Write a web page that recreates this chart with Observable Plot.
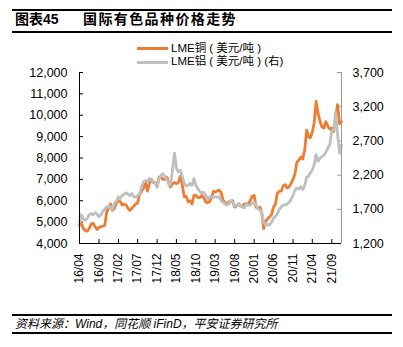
<!DOCTYPE html>
<html><head><meta charset="utf-8">
<script src="https://cdn.jsdelivr.net/npm/d3@7"></script>
<script src="https://cdn.jsdelivr.net/npm/@observablehq/plot@0.6"></script>
<style>
body{margin:0;background:#fff;width:403px;height:347px;position:relative;overflow:hidden;font-family:"Liberation Sans","Noto Sans CJK SC",sans-serif;color:#000;}
.hl{position:absolute;left:12px;width:380px;background:#000;}
.abs{position:absolute;white-space:nowrap;line-height:1;}
.sw{position:absolute;width:31px;height:3px;}
#chart{position:absolute;left:0;top:0;}
</style></head><body>
<div class="hl" style="top:9px;height:2px"></div>
<div class="abs" style="left:15px;top:12px;font-size:14px;font-weight:bold;">图表45</div>
<div class="abs" style="left:83px;top:12px;font-size:14px;font-weight:bold;letter-spacing:1.4px;">国际有色品种价格走势</div>
<div class="hl" style="top:31px;height:1.5px"></div>
<div class="sw" style="left:137px;top:47px;background:#ED7D31"></div>
<div class="abs" style="left:171px;top:43px;font-size:11.5px;">LME铜 ( 美元/吨 )</div>
<div class="sw" style="left:137px;top:61px;background:#BFBFBF"></div>
<div class="abs" style="left:171px;top:56px;font-size:11.5px;">LME铝 ( 美元/吨 ) (右)</div>
<div id="chart"></div>
<div class="hl" style="top:314px;height:1.5px"></div>
<div class="abs" style="left:15px;top:318px;font-size:12px;font-style:italic;">资料来源：Wind，同花顺 iFinD，平安证券研究所</div>
<div class="hl" style="top:332px;height:2px"></div>
<script>
// semi-monthly readings (1st and 16th of each month), 2016-04 .. 2021-11
const copper = [
  4850,4950, 4700,4600, 4580,4700, 4900,4950, 4800,4650, 4750,4800, 4800,4850, 5500,5650, 5850,5550,
  5650,5900, 6000,5950, 5800,5850, 5800,5650, 5550,5650, 5750,5850, 5900,6300, 6450,6600, 6850,6450, 6800,7000, 6850,6850, 6700,7100,
  7100,7000, 7000,7100, 6850,6650, 6800,6850, 6800,6850, 7150,6750, 6200,6200, 5950,6000, 5850,6250, 6250,6150, 6150,6250, 6150,5950,
  5900,5950, 6150,6450, 6400,6450, 6500,6400, 6050,5900, 5850,5950, 5950,6000, 5700,5750, 5850,5750, 5750,5850, 5850,5850, 6000,6200,
  6250,5700, 5650,5700, 5400,4700, 5050,5150, 5250,5350, 5700,5850, 6350,6450, 6450,6700, 6750,6600, 6650,6800, 7000,7250, 7800,7900,
  8050,7950, 8400,9300, 9000,8950, 9200,9650, 10650,10100, 9700,9450, 9400,9700, 9500,9350, 9400,9250, 9900,10500, 9600,9700
];
const aluminum = [
  1510,1620, 1560,1540, 1570,1620, 1640,1620, 1650,1630, 1590,1620, 1670,1700, 1740,1730, 1740,1700,
  1790,1820, 1880,1860, 1900,1920, 1940,1920, 1900,1930, 1880,1880, 1900,1920, 2030,2100, 2120,2110, 2150,2120, 2110,2080, 2020,2140,
  2200,2220, 2180,2130, 2070,2060, 2280,2520, 2300,2250, 2270,2180, 2080,2040, 2050,2080, 2050,2150, 2050,2000, 1960,1940, 1950,1910,
  1850,1880, 1880,1880, 1880,1880, 1880,1830, 1800,1780, 1760,1780, 1830,1800, 1750,1750, 1790,1750, 1730,1720, 1780,1760, 1760,1790,
  1800,1770, 1700,1690, 1650,1510, 1460,1480, 1470,1510, 1570,1600, 1630,1700, 1740,1760, 1760,1780, 1800,1850, 1900,1980, 2010,2000,
  2030,1990, 2050,2170, 2180,2230, 2280,2350, 2500,2400, 2450,2470, 2490,2530, 2600,2640, 2850,2870, 3120,2800, 2520,2640
];
const leftTicks = [4000,5000,6000,7000,8000,9000,10000,11000,12000];
const rightTicks = [1200,1700,2200,2700,3200,3700];
const xTickLabels = ["16/04","16/09","17/02","17/07","17/12","18/05","18/10","19/03","19/08","20/01","20/06","20/11","21/04","21/09"];

const dates = [];
for (let m = 0; m < copper.length / 2; m++) for (const d of [1, 16]) dates.push(new Date(Date.UTC(2016, 3 + m, d)));
const toLeft = v => 4000 + (v - 1200) * (8000 / 2500);
const data = dates.map((date, i) => ({date, cu: copper[i], al: toLeft(aluminum[i])}));
const xTicks = xTickLabels.map(s => new Date(Date.UTC(2000 + +s.slice(0, 2), +s.slice(3) - 1, 1)));
const fmt = d3.format(",");
const W = 403, H = 300, mL = 79, mR = 62, mT = 72, mB = 57;
const pw = W - mL - mR, ph = H - mT - mB;

const chart = Plot.plot({
  width: W, height: H, marginTop: mT, marginBottom: mB, marginLeft: mL, marginRight: mR,
  x: {type: "utc", domain: [dates[0], dates[dates.length - 1]]},
  y: {domain: [4000, 12000]},
  style: {fontFamily: '"Liberation Sans","Noto Sans CJK SC",sans-serif', color: "#000", background: "transparent", overflow: "visible"},
  marks: [
    Plot.axisY(leftTicks, {tickSize: 0, tickPadding: 12, tickFormat: fmt, fontSize: 12.5, label: null}),
    Plot.axisX(xTicks, {tickSize: 0, tickPadding: 10, tickRotate: -90, tickFormat: d3.utcFormat("%y/%m"), fontSize: 12, label: null}),
    Plot.tickY(leftTicks, {y: d => d, stroke: "#000", insetRight: pw - 4}),
    Plot.tickY(rightTicks, {y: toLeft, stroke: "#999", insetLeft: pw - 4}),
    Plot.tickX(xTicks, {x: d => d, stroke: "#000", insetTop: ph - 4}),
    Plot.text(rightTicks, {y: toLeft, text: d => fmt(d), frameAnchor: "right", textAnchor: "start", dx: 11, fontSize: 12.5, fill: "#000"}),
    Plot.line(data, {x: "date", y: "cu", stroke: "#ED7D31", strokeWidth: 2.8}),
    Plot.line(data, {x: "date", y: "al", stroke: "#BFBFBF", strokeWidth: 2.8}),
    Plot.ruleX([dates[0]], {stroke: "#000"}),
    Plot.ruleX([dates[dates.length - 1]], {stroke: "#999"}),
    Plot.ruleY([4000], {stroke: "#000"})
  ]
});
document.getElementById("chart").appendChild(chart);
</script>
</body></html>
